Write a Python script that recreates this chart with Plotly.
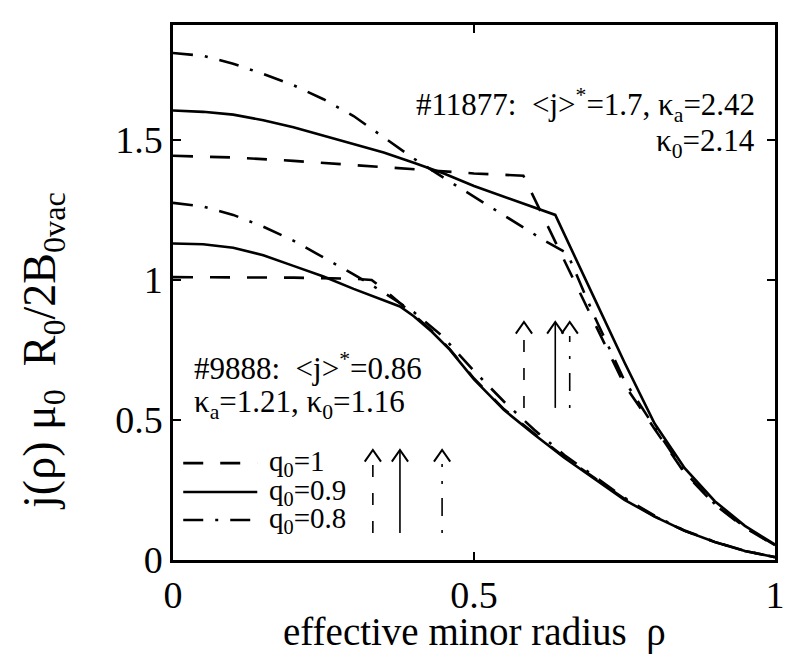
import plotly.graph_objects as go

# ---------------- data ----------------
# shot #11877 (upper group)
rho_11877_q10 = [0, 0.1, 0.2, 0.3, 0.4, 0.5, 0.582, 0.65, 0.7, 0.75, 0.8, 0.85, 0.9, 0.95, 1.0]
j_11877_q10 = [1.443, 1.437, 1.425, 1.41, 1.395, 1.38, 1.372, 1.068, 0.846, 0.625, 0.468, 0.31, 0.198, 0.115, 0.052]

rho_11877_q09 = [0, 0.05, 0.1, 0.15, 0.2, 0.25, 0.3, 0.35, 0.4, 0.45, 0.5, 0.55, 0.6, 0.635,
                 0.7, 0.75, 0.8, 0.85, 0.9, 0.95, 1.0]
j_11877_q09 = [1.605, 1.60, 1.59, 1.57, 1.545, 1.515, 1.487, 1.455, 1.418, 1.38, 1.335, 1.296, 1.258, 1.232,
               0.934, 0.705, 0.487, 0.328, 0.21, 0.122, 0.055]

rho_11877_q08 = [0, 0.05, 0.1, 0.15, 0.2, 0.25, 0.3, 0.35, 0.4, 0.45, 0.5, 0.55, 0.6, 0.615, 0.655,
                 0.7, 0.75, 0.8, 0.85, 0.9, 0.95, 1.0]
j_11877_q08 = [1.81, 1.80, 1.772, 1.735, 1.695, 1.645, 1.585, 1.51, 1.433, 1.364, 1.297, 1.227, 1.162, 1.143, 1.095,
               0.87, 0.64, 0.474, 0.314, 0.2, 0.117, 0.053]

# shot #9888 (lower group)
rho_9888_q10 = [0, 0.1, 0.2, 0.3, 0.33, 0.357, 0.38, 0.4, 0.43, 0.46, 0.5, 0.55, 0.6, 0.65,
                0.7, 0.75, 0.8, 0.85, 0.9, 0.95, 1.0]
j_9888_q10 = [1.01, 1.01, 1.008, 1.004, 1.0, 0.954, 0.91, 0.875, 0.818, 0.752, 0.648, 0.538, 0.452, 0.368,
              0.293, 0.218, 0.156, 0.104, 0.064, 0.032, 0.01]

rho_9888_q09 = [0, 0.05, 0.1, 0.15, 0.2, 0.25, 0.3, 0.35, 0.377, 0.4, 0.43, 0.46, 0.5, 0.55, 0.6, 0.65,
                0.7, 0.75, 0.8, 0.85, 0.9, 0.95, 1.0]
j_9888_q09 = [1.13, 1.127, 1.115, 1.088, 1.05, 1.012, 0.968, 0.928, 0.905, 0.87, 0.815, 0.75, 0.645, 0.535, 0.448, 0.365,
              0.29, 0.215, 0.155, 0.104, 0.064, 0.032, 0.01]

rho_9888_q08 = [0, 0.05, 0.1, 0.15, 0.2, 0.25, 0.3, 0.35, 0.4, 0.447, 0.5, 0.55, 0.6, 0.65,
                0.7, 0.75, 0.8, 0.85, 0.9, 0.95, 1.0]
j_9888_q08 = [1.275, 1.262, 1.232, 1.19, 1.14, 1.08, 1.02, 0.955, 0.885, 0.8, 0.675, 0.565, 0.465, 0.375,
              0.297, 0.222, 0.158, 0.105, 0.065, 0.033, 0.01]

# radii of the q=1 surfaces (arrows), order: q0=1, q0=0.9, q0=0.8
q1_rho_9888 = [0.332, 0.377, 0.447]
q1_rho_11877 = [0.583, 0.635, 0.659]

legend_labels = ["q<sub>0</sub>=1", "q<sub>0</sub>=0.9", "q<sub>0</sub>=0.8"]

x_ticks = [0, 0.5, 1]
x_ticklabels = ["0", "0.5", "1"]
y_ticks = [0, 0.5, 1, 1.5]
y_ticklabels = ["0", "0.5", "1", "1.5"]

# ---------------- styles ----------------
FONT = "Liberation Serif"
DASH = "20px,17px"
DASHDOT = "20px,12px,3px,12px"
styles = [DASH, "solid", DASHDOT]
arrow_styles = ["12px,16px", "solid", "3px,14px,18px,14px"]
LW = 2.6

fig = go.Figure()

curves = [
    (rho_11877_q10, j_11877_q10, 0), (rho_11877_q09, j_11877_q09, 1), (rho_11877_q08, j_11877_q08, 2),
    (rho_9888_q10, j_9888_q10, 0), (rho_9888_q09, j_9888_q09, 1), (rho_9888_q08, j_9888_q08, 2),
]
for xs, ys, k in curves:
    fig.add_trace(go.Scatter(x=xs, y=ys, mode="lines", showlegend=False, hoverinfo="skip",
                             line=dict(color="black", width=LW, dash=styles[k])))

annotations = []

# arrows marking q=1 radii (shaft + open chevron head)
HEAD_DX, HEAD_DY = 0.0135, 0.042
arrow_sets = [(q1_rho_9888, 0.096, 0.393), (q1_rho_11877, 0.543, 0.85)]
for xs, ybot, ytop in arrow_sets:
    for k, xa in enumerate(xs):
        top = ytop if k == 1 else ytop - 0.05
        fig.add_trace(go.Scatter(x=[xa, xa], y=[ybot, top], mode="lines", showlegend=False,
                                 hoverinfo="skip",
                                 line=dict(color="black", width=1.6, dash=arrow_styles[k])))
        fig.add_trace(go.Scatter(x=[xa - HEAD_DX, xa, xa + HEAD_DX], y=[ytop - HEAD_DY, ytop, ytop - HEAD_DY],
                                 mode="lines", showlegend=False, hoverinfo="skip",
                                 line=dict(color="black", width=2)))

# legend (drawn in the plot)
leg_y = [0.346, 0.243, 0.143]
leg_x0, leg_x1, leg_tx = 0.017, 0.140, 0.156
shapes = []
for k in range(3):
    shapes.append(dict(type="line", xref="x", yref="y", x0=leg_x0, x1=leg_x1, y0=leg_y[k], y1=leg_y[k],
                       line=dict(color="black", width=LW, dash=styles[k])))
    annotations.append(dict(x=leg_tx, y=leg_y[k], xref="x", yref="y", text=legend_labels[k],
                            showarrow=False, xanchor="left", yanchor="middle",
                            font=dict(family=FONT, size=29, color="black")))

NB = "\u00a0"
text_notes = [
    ("#11877:" + NB + NB + "&lt;j&gt;<sup>*</sup>=1.7, κ<sub>a</sub>=2.42", 0.970, 1.625, "right"),
    ("κ<sub>0</sub>=2.14", 0.970, 1.49, "right"),
    ("#9888:" + NB + NB + "&lt;j&gt;<sup>*</sup>=0.86", 0.032, 0.69, "left"),
    ("κ<sub>a</sub>=1.21, κ<sub>0</sub>=1.16", 0.032, 0.557, "left"),
]
for t, x, y, anc in text_notes:
    annotations.append(dict(x=x, y=y, xref="x", yref="y", text=t, showarrow=False,
                            xanchor=anc, yanchor="middle",
                            font=dict(family=FONT, size=31, color="black")))

# axis titles
annotations.append(dict(x=0.5, y=-0.135, xref="paper", yref="paper", showarrow=False,
                        text="effective minor radius" + NB + NB + "ρ", xanchor="center", yanchor="middle",
                        font=dict(family=FONT, size=39, color="black")))
annotations.append(dict(x=-0.215, y=0.39, xref="paper", yref="paper", showarrow=False, textangle=-90,
                        text="j(ρ)" + NB + "μ<sub>0</sub>" + NB + NB + "R<sub>0</sub>/2B<sub>0vac</sub>",
                        xanchor="center", yanchor="middle",
                        font=dict(family=FONT, size=46, color="black")))

axis_common = dict(showgrid=False, zeroline=False, showline=True, linecolor="black", linewidth=2.5,
                   mirror="ticks", ticks="inside", ticklen=8, tickwidth=2, tickcolor="black",
                   tickfont=dict(family=FONT, size=38, color="black"))

fig.update_layout(
    width=805, height=672,
    margin=dict(l=173, r=30, t=25, b=112),
    paper_bgcolor="white", plot_bgcolor="white",
    showlegend=False,
    xaxis=dict(range=[0, 1], tickvals=x_ticks, ticktext=x_ticklabels, **axis_common),
    yaxis=dict(range=[0, 1.91], tickvals=y_ticks, ticktext=y_ticklabels, **axis_common),
    shapes=shapes,
    annotations=annotations,
)

fig.write_html("out.html")
